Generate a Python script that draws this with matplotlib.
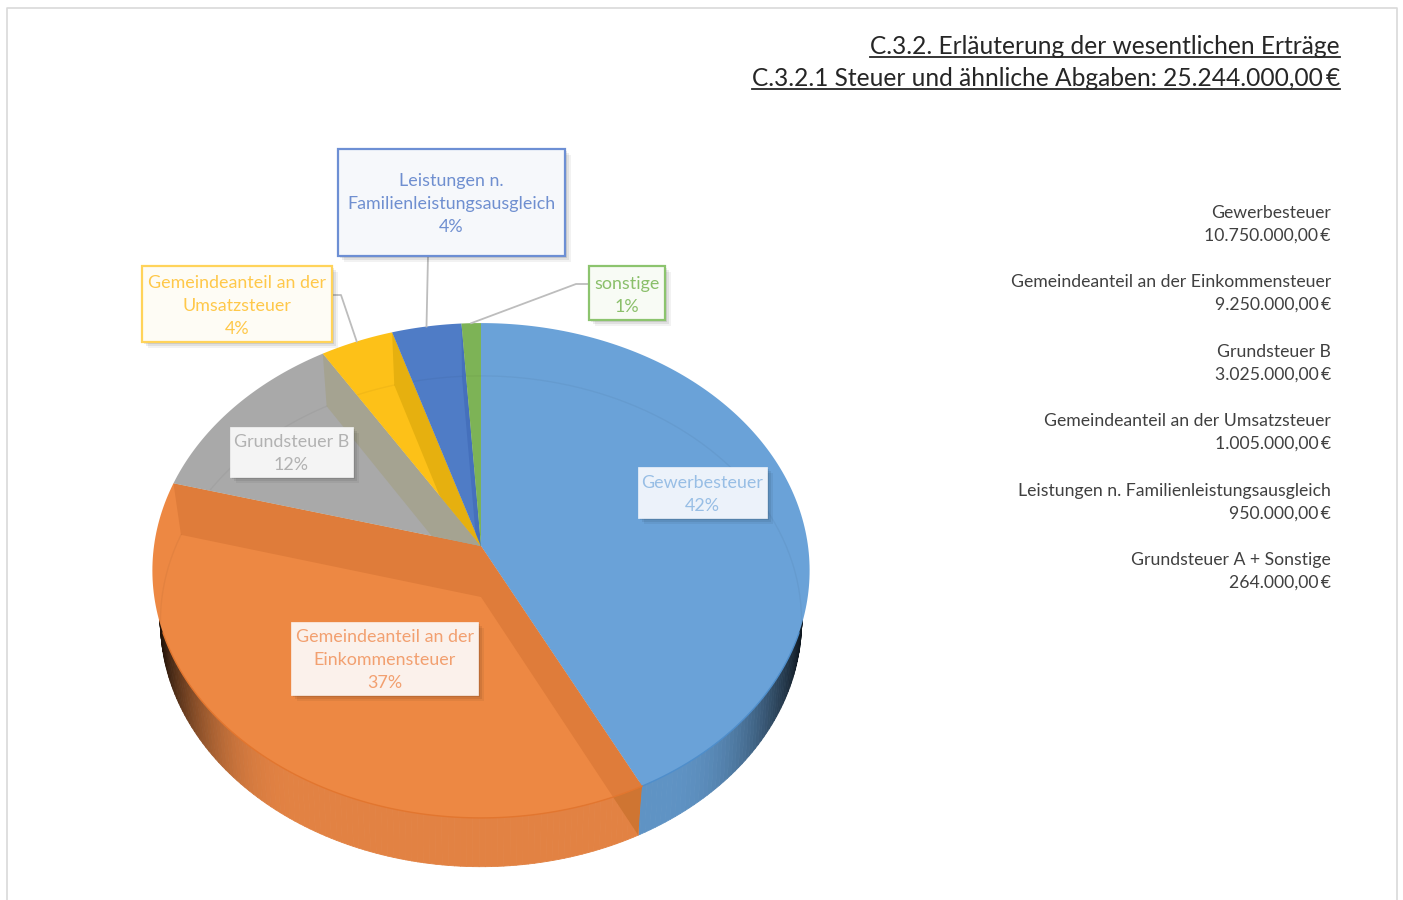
import numpy as np
import matplotlib
matplotlib.use("Agg")
from matplotlib import pyplot as plt
from matplotlib.collections import PolyCollection
from matplotlib.patches import Rectangle
import matplotlib.patheffects as pe

plt.rcParams['font.family'] = ['Lato', 'DejaVu Sans']

# values from the list on the right of the page
names = ['Gewerbesteuer', 'Gemeindeanteil an der Einkommensteuer', 'Grundsteuer B',
         'Gemeindeanteil an der Umsatzsteuer', 'Leistungen n. Familienleistungsausgleich',
         'Grundsteuer A + Sonstige']
amounts = [10750000, 9250000, 3025000, 1005000, 950000, 264000]
pie_labels = [['Gewerbesteuer', '42%'],
              ['Gemeindeanteil an der', 'Einkommensteuer', '37%'],
              ['Grundsteuer B', '12%'],
              ['Gemeindeanteil an der', 'Umsatzsteuer', '4%'],
              ['Leistungen n.', 'Familienleistungsausgleich', '4%'],
              ['sonstige', '1%']]
titles = ['C.3.2. Erläuterung der wesentlichen Erträge',
          'C.3.2.1 Steuer und ähnliche Abgaben: 25.244.000,00\u2009€']

face_colors = ['#6AA2D8', '#ED8843', '#A9A9A9', '#FDC118', '#4F7CC6', '#7DB356']
wall_colors = ['#5E96CE', '#DF7C3A', '#A5A391', '#E6B00F', '#4570BC', '#72A64C']
rim_colors = ['#5F93C4', '#E28243', '#999999', '#E0A800', '#4570BC', '#72A64C']
arc_colors = ['#4F8ECB', '#E2762F', '#999999', '#E0A800', '#4570BC', '#72A64C']

# label boxes: x0, x1, y0, y1, first text line, edge, fill, text colour
boxes = [(638, 767, 467, 518, 483, None, '#ECF2FA', '#98BEE5'),
         (291, 478, 622, 695, 637, None, '#FBF1EB', '#F2A070'),
         (230, 353, 427, 477, 442, None, '#F4F4F4', '#B2B2B2'),
         (142, 332, 266, 342, 283, '#FFD35A', '#FEFCF5', '#FFC84A'),
         (338, 565, 149, 256, 181, '#6D8FD4', '#F6F8FB', '#6F8FD0'),
         (589, 665, 266, 320, 284, '#8CC46E', '#F8FBF5', '#8ABF6A')]
list_ys = [212, 281, 351, 420, 490, 559]

PERSP = 0.099
TOP = dict(cx=481, cy=546, a=327, b=245)
TOP_IN = dict(cx=481, cy=546, a=323, b=241)
BOT = dict(cx=481, cy=597, a=319, b=243)


def project(theta, cx, cy, a, b):
    x = np.sin(theta)
    y = np.cos(theta)
    return cx + a * x / (1 + PERSP * y), cy - b * y / (1 + PERSP * y)


def arc(t0, t1, geom):
    th = np.linspace(t0, t1, max(2, int((t1 - t0) * 180 / np.pi) + 2))
    return np.column_stack(project(th, **geom))


def money(v):
    return f'{v:,.2f}'.replace(',', 'X').replace('.', ',').replace('X', '.') + '\u2009€'


fig = plt.figure(figsize=(14.03, 9), dpi=100)
ax = fig.add_axes([0, 0, 1, 1])
ax.set_xlim(0, 1403)
ax.set_ylim(900, 0)
ax.axis('off')

# page border
ax.plot([7, 7, 1397, 1397], [900, 8, 8, 900], color='#D9D9D9', lw=1.2)

edges = np.concatenate([[0], np.cumsum(amounts)]) / sum(amounts) * 2 * np.pi

# outer wall, its upper edge is tucked under the top face
for i in range(len(amounts)):
    t0, t1 = edges[i], edges[i + 1]
    th = np.append(np.arange(t0, t1, np.radians(1)), t1)
    th = th[np.cos(th) < -0.1]
    if len(th) < 2:
        continue
    quads, cols = [], []
    base = np.array(matplotlib.colors.to_rgb(rim_colors[i]))
    for a0, a1 in zip(th[:-1], th[1:]):
        p0 = project(a0, **TOP_IN)
        p1 = project(a1, **TOP_IN)
        p2 = project(a1, **BOT)
        p3 = project(a0, **BOT)
        quads.append([p0, p1, p2, p3])
        u = abs(p0[0] - TOP['cx']) / TOP['a']
        cols.append(base * (1 - 0.8 * max(0, (u - 0.55) / 0.43) ** 2.5))
    ax.add_collection(PolyCollection(quads, facecolors=cols, edgecolors=cols, linewidths=0.6, zorder=2))

# top faces
faces = []
for i in range(len(amounts)):
    pts = np.vstack([[TOP['cx'], TOP['cy']], arc(edges[i], edges[i + 1], TOP)])
    faces.append(ax.fill(pts[:, 0], pts[:, 1], color=face_colors[i], lw=0, zorder=3)[0])

# inner walls showing through the faces
for i in range(len(amounts)):
    for j in range(len(amounts)):
        p_top = project(edges[j], **TOP)
        p_bot = project(edges[j], **BOT)
        xs = [TOP['cx'], p_top[0], p_bot[0], BOT['cx']]
        ys = [TOP['cy'], p_top[1], p_bot[1], BOT['cy']]
        w = ax.fill(xs, ys, color=wall_colors[i], lw=0, zorder=4)[0]
        w.set_clip_path(faces[i])

# end of the orange slice seen through the wall
rim_pts = np.vstack([arc(edges[1], edges[2], TOP), arc(edges[1], edges[2], BOT)[::-1]])
rim_clip = ax.fill(rim_pts[:, 0], rim_pts[:, 1], color='none', lw=0, zorder=2)[0]
p_top = project(edges[1], **TOP)
p_bot = project(edges[1], **BOT)
w = ax.fill([TOP['cx'], p_top[0], p_bot[0], BOT['cx']], [TOP['cy'], p_top[1], p_bot[1], BOT['cy']],
            color='#CF7532', lw=0, zorder=2.5)[0]
w.set_clip_path(rim_clip)

# faint arc of the bottom face and the front edge of the top face
for i in range(len(amounts)):
    pts = arc(edges[i], edges[i + 1], BOT)
    line, = ax.plot(pts[:, 0], pts[:, 1], color='black', alpha=0.04, lw=1, zorder=5)
    line.set_clip_path(faces[i])
    th0, th1 = max(edges[i], np.pi / 2 + 0.35), min(edges[i + 1], 3 * np.pi / 2 - 0.35)
    if th1 > th0:
        pts = arc(th0, th1, TOP)
        ax.plot(pts[:, 0], pts[:, 1], color=arc_colors[i], lw=1.0, zorder=5)

# leader lines, they end at the middle of their slice
mids = (edges[:-1] + edges[1:]) / 2
leaders = {3: [(333, 295), (341, 295)], 4: [(428, 256)], 5: [(589, 284), (576, 284)]}
for i, start in leaders.items():
    end = project(mids[i], **TOP)
    pts = np.array(start + [end])
    ax.plot(pts[:, 0], pts[:, 1], color='#BDBDBD', lw=1.3, zorder=6)

# label boxes
shadow = [pe.SimplePatchShadow(offset=(4, -4), shadow_rgbFace='black', alpha=0.05),
          pe.SimplePatchShadow(offset=(3, -3), shadow_rgbFace='black', alpha=0.07),
          pe.SimplePatchShadow(offset=(1.5, -1.5), shadow_rgbFace='black', alpha=0.09),
          pe.Normal()]
for (x0, x1, y0, y1, ty, edge, fill, txt), lines in zip(boxes, pie_labels):
    r = Rectangle((x0, y0), x1 - x0, y1 - y0, facecolor=fill, edgecolor=edge if edge else fill,
                  lw=1.6 if edge else 0.5, zorder=7)
    r.set_path_effects(shadow)
    ax.add_patch(r)
    for k, s in enumerate(lines):
        ax.text((x0 + x1) / 2, ty + k * 23, s, color=txt, fontsize=12.9, ha='center', va='center', zorder=8)

# list on the right
for n, v, y in zip(names, amounts, list_ys):
    ax.text(1331, y + 1, n, color='#404040', fontsize=12.7, ha='right', va='center')
    ax.text(1331, y + 24, money(v), color='#404040', fontsize=12.7, ha='right', va='center')

# title, underlined by hand
fig.canvas.draw()
rend = fig.canvas.get_renderer()
for s, y in zip(titles, [47, 79]):
    t = ax.text(1340, y, s, color='#262626', fontsize=17.65, ha='right', va='center')
    bb = t.get_window_extent(rend)
    ax.plot([bb.x0, bb.x1], [y + 10, y + 10], color='#262626', lw=1.3)

plt.savefig('out.png', dpi=100)
